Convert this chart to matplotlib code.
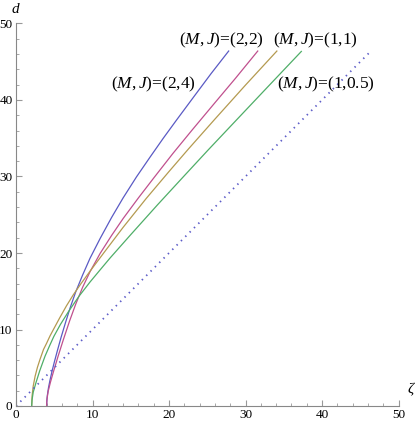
import numpy as np
import matplotlib
matplotlib.use("Agg")
import matplotlib.pyplot as plt
from matplotlib.ticker import MultipleLocator

plt.rcParams['font.family'] = ['Liberation Serif', 'DejaVu Serif']
plt.rcParams['mathtext.fontset'] = 'custom'
plt.rcParams['mathtext.rm'] = 'Liberation Serif'
plt.rcParams['mathtext.it'] = 'Liberation Serif:italic'

# curves: zeta (x) and d (y)
zeta_24 = [4.0, 4.03, 4.1, 4.25, 4.45, 4.7, 5.0, 5.4, 5.9, 6.5, 7.1, 7.8, 8.7, 9.67,
           11.0, 12.5, 14.0, 15.75, 17.5, 19.25, 21.0, 23.3, 25.5, 27.8]
d_24 = [0, 0.7, 1.4, 2.4, 3.4, 4.5, 5.7, 7.2, 9.0, 11.0, 12.9, 14.9, 17.1, 19.3,
        21.9, 24.65, 27.2, 29.95, 32.5, 35.0, 37.4, 40.5, 43.45, 46.4]

zeta_22 = [4.0, 4.05, 4.2, 4.5, 4.9, 5.5, 6.2, 7.0, 7.8, 8.7, 9.7,
           11.0, 12.5, 14.0, 16.0, 18.0, 20.5, 23.0, 25.8, 28.7, 31.6]
d_22 = [0, 0.9, 1.9, 3.1, 4.5, 6.5, 8.7, 11.1, 13.3, 15.5, 17.6,
        19.95, 22.3, 24.5, 27.2, 29.8, 33.0, 36.05, 39.4, 42.85, 46.4]

zeta_11 = [2.05, 2.1, 2.25, 2.5, 2.8, 3.14, 3.6, 4.0, 4.44, 5.0, 5.7, 6.6, 7.5, 8.5, 9.7,
           11.5, 14.0, 17.0, 20.0, 22.5, 26.0, 30.0, 34.1]
d_11 = [0, 1.3, 2.6, 3.9, 5.05, 6.1, 7.4, 8.2, 9.15, 10.2, 11.5, 13.1, 14.55, 16.0, 17.65,
        20.05, 23.35, 27.1, 30.65, 33.55, 37.5, 41.95, 46.4]

zeta_105 = [2.05, 2.1, 2.25, 2.61, 3.1, 3.79, 4.4, 4.95, 5.8, 6.9, 8.2, 9.67, 11.0, 12.3,
            15.0, 18.5, 22.0, 25.1, 28.5, 32.8, 37.3]
d_105 = [0, 0.8, 1.8, 3.05, 4.6, 6.5, 7.9, 9.1, 10.65, 12.4, 14.3, 16.2, 17.8, 19.35,
         22.4, 26.3, 30.1, 33.45, 37.05, 41.6, 46.35]

diag = [0, 46.3]

fig = plt.figure(figsize=(4.15, 4.24), dpi=100)
ax = fig.add_axes([16/415, 18/424, 382.5/415, 382.5/424])

ax.plot(zeta_24, d_24, color='#5a5ac4', lw=0.9)
ax.plot(zeta_22, d_22, color='#c0508e', lw=0.9)
ax.plot(zeta_11, d_11, color='#b49a50', lw=0.9)
ax.plot(zeta_105, d_105, color='#4fae68', lw=0.9)
ax.plot(diag, diag, color='#5c5cc8', lw=1.3, linestyle=(0, (0.8, 2.6)))

ax.set_xlim(0, 50)
ax.set_ylim(0, 50)
for s in ['top', 'right']:
    ax.spines[s].set_visible(False)
for s in ['left', 'bottom']:
    ax.spines[s].set_color('#888888')
    ax.spines[s].set_linewidth(0.8)

ax.xaxis.set_major_locator(MultipleLocator(10))
ax.xaxis.set_minor_locator(MultipleLocator(2))
ax.yaxis.set_major_locator(MultipleLocator(10))
ax.yaxis.set_minor_locator(MultipleLocator(2))
ax.tick_params(which='major', direction='in', length=4, width=0.8, color='#999999',
               labelsize=9.5, pad=2.5)
ax.tick_params(which='minor', direction='in', length=2.5, width=0.6, color='#999999')

ax.text(-0.1, 51.8, 'd', style='italic', fontsize=11, ha='center', va='center', clip_on=False)
ax.text(51.6, 2.2, 'ζ', style='italic', fontsize=11, ha='center', va='center', clip_on=False)

lab = dict(fontsize=12.5, ha='center', va='center')
ax.text(26.9, 47.8, '$(M,J)$=(2,2)', **lab)
ax.text(39.2, 47.8, '$(M,J)$=(1,1)', **lab)
ax.text(18.0, 42.0, '$(M,J)$=(2,4)', **lab)
ax.text(40.5, 42.0, '$(M,J)$=(1,0.5)', **lab)

fig.savefig('out.png', dpi=100)
